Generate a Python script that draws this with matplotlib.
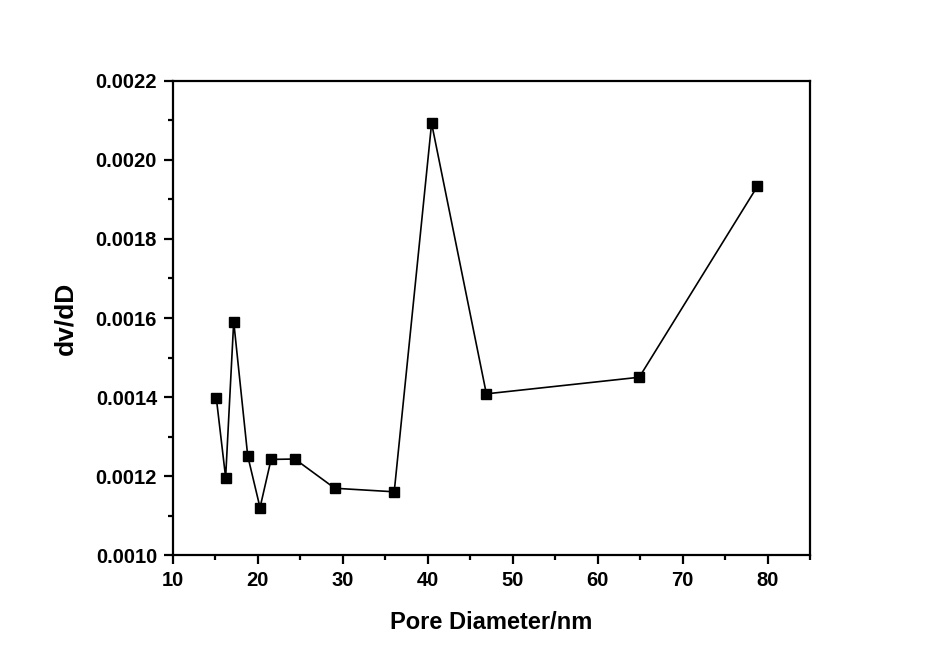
import numpy as np
import matplotlib
matplotlib.use('Agg')
import matplotlib.pyplot as plt
from matplotlib.ticker import MultipleLocator

# Pore size distribution data
pore_diameter = [15.1, 16.2, 17.15, 18.8, 20.25, 21.55, 24.35, 29.05, 36.05, 40.45, 46.9, 64.9, 78.8]
dv_dD = [0.001398, 0.001196, 0.001591, 0.001251, 0.00112, 0.001242, 0.001243,
         0.001169, 0.00116, 0.002093, 0.001408, 0.00145, 0.001933]

plt.rcParams['font.family'] = ['Liberation Sans', 'DejaVu Sans']
plt.rcParams['font.weight'] = 'bold'

fig = plt.figure(figsize=(9.26, 6.59), dpi=100)
ax = fig.add_axes([0.1868, 0.1578, 0.6879, 0.7193])

ax.plot(pore_diameter, dv_dD, color='black', linewidth=1.2,
        marker='s', markersize=7.5, markerfacecolor='black', markeredgecolor='black')

ax.set_xlim(10, 85)
ax.set_ylim(0.0010, 0.0022)
ax.xaxis.set_major_locator(MultipleLocator(10))
ax.xaxis.set_minor_locator(MultipleLocator(5))
ax.yaxis.set_major_locator(MultipleLocator(0.0002))
ax.yaxis.set_minor_locator(MultipleLocator(0.0001))
ax.yaxis.set_major_formatter(plt.FormatStrFormatter('%.4f'))

for s in ax.spines.values():
    s.set_linewidth(1.6)
ax.tick_params(which='major', direction='out', length=6.5, width=1.6, labelsize=14.5, pad=5)
ax.tick_params(which='minor', direction='out', length=3.5, width=1.6)
for lab in ax.get_xticklabels() + ax.get_yticklabels():
    lab.set_fontweight('bold')

ax.set_xlabel('Pore Diameter/nm', fontsize=17, fontweight='bold', va='center')
ax.set_ylabel('dv/dD', fontsize=19, fontweight='bold', va='center')
ax.xaxis.set_label_coords(0.5, -0.143)
ax.yaxis.set_label_coords(-0.1695, 0.5)

fig.savefig('out.png', dpi=100)
